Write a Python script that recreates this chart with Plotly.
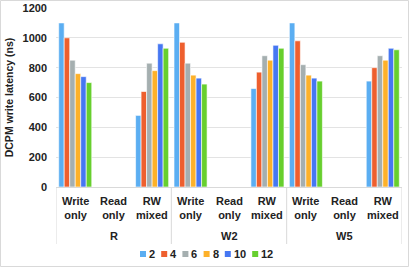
import plotly.graph_objects as go

groups = ["R", "W2", "W5"]
workloads = ["Write<br>only", "Read<br>only", "RW<br>mixed"]
series_names = ["2", "4", "6", "8", "10", "12"]
colors = ["#5BAEF2", "#EE5F2E", "#A5AFB0", "#FDB12A", "#4677F2", "#67CF2E"]

# values per series, order: R(W,R,RW), W2(W,R,RW), W5(W,R,RW)
vals = {
    "2":  [1100, None, 480, 1100, None, 660, 1100, None, 710],
    "4":  [1000, None, 640, 970, None, 770, 980, None, 800],
    "6":  [850, None, 830, 830, None, 880, 820, None, 880],
    "8":  [760, None, 780, 750, None, 850, 750, None, 850],
    "10": [740, None, 960, 730, None, 950, 730, None, 930],
    "12": [700, None, 930, 690, None, 930, 710, None, 920],
}

FONT = "Liberation Sans"
L, R, T, B = 56, 7, 8, 80
W, H = 409, 267
pw, ph = W - L - R, H - T - B

ncat = len(groups) * len(workloads)
xpos = list(range(ncat))

fig = go.Figure()
for name, col in zip(series_names, colors):
    fig.add_trace(go.Bar(
        x=xpos, y=vals[name], name=name, showlegend=False,
        marker=dict(color=col, line=dict(color="white", width=0.6)),
    ))

def py(p):
    # pixel y (from top) -> paper y
    return (T + ph - p) / ph

def px(p):
    return (p - L) / pw

ann = []
for gi, g in enumerate(groups):
    for wi, w in enumerate(workloads):
        ann.append(dict(x=gi * 3 + wi, xref="x", y=py(193), yref="paper",
                        text="<b>" + w + "</b>", showarrow=False, yanchor="top",
                        font=dict(size=11, family=FONT, color="#222")))
    ann.append(dict(x=gi * 3 + 1, xref="x", y=py(236), yref="paper",
                    text="<b>" + g + "</b>", showarrow=False, yanchor="middle",
                    font=dict(size=11, family=FONT, color="#222")))

shapes = []
# legend built from series names
cx = 140
for name, col in zip(series_names, colors):
    shapes.append(dict(type="rect", xref="paper", yref="paper",
                       x0=px(cx), x1=px(cx + 6), y0=py(257), y1=py(251),
                       fillcolor=col, line=dict(width=0)))
    ann.append(dict(x=px(cx + 7), xref="paper", y=py(254), yref="paper",
                    text="<b>%s</b>" % name, showarrow=False, xanchor="left",
                    yanchor="middle", xshift=0,
                    font=dict(size=11, family=FONT, color="#222")))
    cx += 6 + 2 + 6.2 * len(name) + 7

# dividers
for k in range(len(groups) + 1):
    xv = -0.5 + 3 * k
    shapes.append(dict(type="line", xref="x", yref="paper", x0=xv, x1=xv,
                       y0=0, y1=py(244), line=dict(color="#D9D9D9", width=1)))
# outer border
shapes.append(dict(type="rect", xref="paper", yref="paper", x0=px(0.5),
                   x1=px(W - 0.5), y0=py(H - 0.5), y1=py(0.5),
                   line=dict(color="#D9D9D9", width=1)))

fig.update_layout(
    width=W, height=H,
    margin=dict(l=L, r=R, t=T, b=B, autoexpand=False),
    paper_bgcolor="white", plot_bgcolor="white",
    barmode="group", bargap=0.14, bargroupgap=0,
    font=dict(family=FONT, size=11, color="#222"),
    annotations=ann, shapes=shapes,
)
fig.update_xaxes(
    range=[-0.5, ncat - 0.5], showticklabels=False, ticks="",
    showline=True, linecolor="#D9D9D9", linewidth=1, showgrid=False, zeroline=False,
)
fig.update_yaxes(
    range=[0, 1200], dtick=200, showgrid=True, gridcolor="#E3E3E3",
    zeroline=False, showline=False, ticklabelstandoff=8,
    tickfont=dict(size=11, family=FONT, color="#222", weight="bold"),
    title=dict(text="<b>DCPM write latency (ns)</b>", font=dict(size=10.5), standoff=6),
)
fig.write_html("out.html", config={"displayModeBar": False},
               post_script="document.body.style.margin='0';document.body.style.overflow='hidden';")
